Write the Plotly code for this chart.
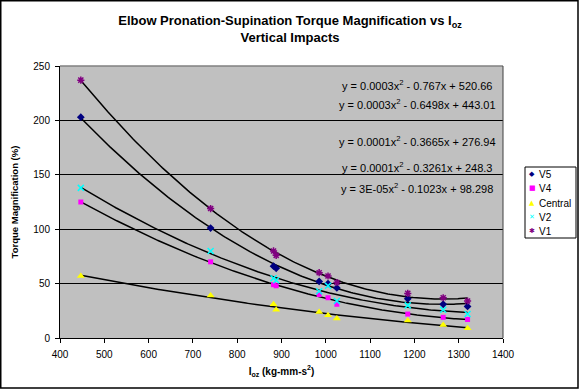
import numpy as np
import plotly.graph_objects as go

# ---- data ----
ioz = [447, 740, 882, 888, 985, 1005, 1025, 1185, 1265, 1320]
v5 = [203, 101, 66, 64, 52, 50, 46, 36, 31, 29]
v4 = [125, 70, 49, 48, 40, 37, 31, 22, 19, 17]
central = [57, 39, 31, 26, 24, 21, 18, 16, 12, 9]
v2 = [138, 80, 55, 53, 43, 48, 34, 30, 26, 22]
v1 = [237, 119, 80, 76, 60, 57, 51, 41, 37, 34]

series_names = ["V5", "V4", "Central", "V2", "V1"]
series_values = [v5, v4, central, v2, v1]

equations = [
    "y = 0.0003x<sup>2</sup> - 0.767x + 520.66",
    "y = 0.0003x<sup>2</sup> - 0.6498x + 443.01",
    "y = 0.0001x<sup>2</sup> - 0.3665x + 276.94",
    "y = 0.0001x<sup>2</sup> - 0.3261x + 248.3",
    "y = 3E-05x<sup>2</sup> - 0.1023x + 98.298",
]
x_ticks = [400, 500, 600, 700, 800, 900, 1000, 1100, 1200, 1300, 1400]
y_ticks = [0, 50, 100, 150, 200, 250]

# ---- styles ----
colors = {"V5": "#000080", "V4": "#FF00FF", "Central": "#FFFF00", "V2": "#00FFFF", "V1": "#800080"}
styles = {
    "V5": dict(symbol="diamond", color=colors["V5"], size=6, line=dict(width=0)),
    "V4": dict(symbol="square", color=colors["V4"], size=5, line=dict(width=0)),
    "Central": dict(symbol="triangle-up", color=colors["Central"], size=7, line=dict(width=0)),
    "V2": dict(symbol="x-thin-open", color=colors["V2"], size=6, line=dict(width=1.5, color=colors["V2"])),
    "V1": dict(symbol="asterisk-open", color=colors["V1"], size=6, line=dict(width=1.5, color=colors["V1"])),
}
legend_glyphs = {"V5": "\u25C6", "V4": "\u25A0", "Central": "\u25B2", "V2": "\u2715", "V1": "\u2731"}

FONT = "Liberation Sans, Arial, sans-serif"
L, R, T, B = 60, 76, 66, 51
W, H = 579, 389
PW, PH = W - L - R, H - T - B


def px_x(px):
    return (px - L) / PW


def px_y(py):
    return (H - B - py) / PH


fig = go.Figure()

# trendlines (2nd-order polynomial fit, like the spreadsheet trendlines)
xs = np.array(ioz, dtype=float)
for name, vals in zip(series_names, series_values):
    coef = np.polyfit(xs, np.array(vals, dtype=float), 2)
    xf = np.linspace(xs.min(), xs.max(), 200)
    fig.add_trace(go.Scatter(x=xf, y=np.polyval(coef, xf), mode="lines",
                             line=dict(color="black", width=1.5),
                             showlegend=False, hoverinfo="skip"))

for name, vals in zip(series_names, series_values):
    fig.add_trace(go.Scatter(x=ioz, y=vals, mode="markers", name=name,
                             marker=styles[name], showlegend=False))

# equation labels
eq_y = [232.5, 215, 181, 157, 138]
for txt, yy in zip(equations, eq_y):
    fig.add_annotation(x=1206, y=yy, xref="x", yref="y", text=txt, showarrow=False,
                       xanchor="center", yanchor="middle",
                       font=dict(family=FONT, size=11, color="black"))

# legend (box drawn as a shape, entries as text)
legend_rows = [174, 188, 203, 217, 231]
for name, row in zip(series_names, legend_rows):
    fig.add_annotation(x=px_x(532), y=px_y(row), xref="paper", yref="paper",
                       text=legend_glyphs[name], showarrow=False, xanchor="center", yanchor="middle",
                       font=dict(family="DejaVu Sans", size=7, color=colors[name]))
    fig.add_annotation(x=px_x(537), y=px_y(row), xref="paper", yref="paper",
                       text=name, showarrow=False, xanchor="left", yanchor="middle",
                       font=dict(family=FONT, size=10, color="black"))

fig.update_layout(
    width=W, height=H,
    margin=dict(l=L, r=R, t=T, b=B, autoexpand=False),
    paper_bgcolor="white", plot_bgcolor="#C0C0C0",
    font=dict(family=FONT, size=10, color="black"),
    showlegend=False,
    title=dict(text="<b>Elbow Pronation-Supination Torque Magnification vs I<sub>oz</sub><br>Vertical Impacts</b>",
               x=290 / W, xanchor="center", y=1 - 25 / H, yanchor="top",
               font=dict(family=FONT, size=13, color="black")),
    xaxis=dict(range=[400, 1400], tickvals=x_ticks, showgrid=False, zeroline=False,
               showline=True, linecolor="black", linewidth=1,
               ticks="outside", ticklen=4, tickcolor="black", ticklabelstandoff=3,
               tickfont=dict(family=FONT, size=10),
               title=dict(text="<b>I<sub>oz</sub> (kg-mm-s<sup>2</sup>)</b>", standoff=8,
                          font=dict(family=FONT, size=10))),
    yaxis=dict(range=[0, 250], tickvals=y_ticks, showgrid=True, gridcolor="black", gridwidth=1,
               zeroline=False, showline=True, linecolor="black", linewidth=1,
               ticks="outside", ticklen=4, tickcolor="black", ticklabelstandoff=3,
               tickfont=dict(family=FONT, size=10),
               title=dict(text="<b>Torque Magnification (%)</b>", standoff=12,
                          font=dict(family=FONT, size=9.5))),
    shapes=[
        dict(type="line", xref="paper", yref="paper", x0=0, x1=1, y0=1, y1=1,
             line=dict(color="#808080", width=1.5), layer="above"),
        dict(type="line", xref="paper", yref="paper", x0=1, x1=1, y0=0, y1=1,
             line=dict(color="#404040", width=1), layer="above"),
        # legend box
        dict(type="rect", xref="paper", yref="paper",
             x0=px_x(525), x1=px_x(576), y0=px_y(238), y1=px_y(167),
             line=dict(color="black", width=1), fillcolor="white", layer="below"),
        # chart border
        dict(type="rect", xref="paper", yref="paper",
             x0=px_x(0.75), x1=px_x(578), y0=px_y(388), y1=px_y(0.75),
             line=dict(color="black", width=1.5), fillcolor="rgba(0,0,0,0)", layer="above"),
    ],
)

fig.write_html("out.html", config={"displayModeBar": False},
               post_script="document.body.style.margin='0px';")
